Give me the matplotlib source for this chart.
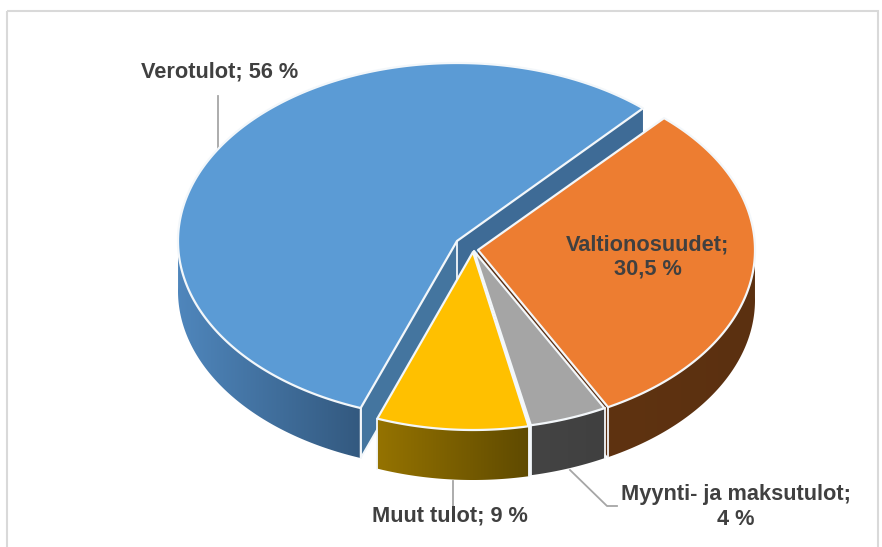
import numpy as np
import matplotlib
matplotlib.use("Agg")
import matplotlib.pyplot as plt
from matplotlib.colors import to_rgb
from matplotlib.patches import Polygon

# Data
categories = ["Verotulot", "Valtionosuudet", "Myynti- ja maksutulot", "Muut tulot"]
shares = [56, 30.5, 4.5, 9]
labels = ["Verotulot; 56 %", "Valtionosuudet;\n30,5 %", "Myynti- ja maksutulot;\n4 %", "Muut tulot; 9 %"]
top_colors = ["#5B9BD5", "#ED7D31", "#A5A5A5", "#FFC000"]
wall_from = ["#4F86BC", "#5F3311", "#444444", "#957300"]
wall_to = ["#33597F", "#5B3010", "#404040", "#5F4A00"]
cut_colors = ["#44759F", "#5A2E12", "#444444", "#7A5E00"]

W, H = 882, 547
fig = plt.figure(figsize=(W / 100, H / 100), dpi=100)
ax = fig.add_axes([0, 0, 1, 1])
ax.axis("off")

B, DEPTH = 178, 50
START = 47.8
BLUE_START = 48.2
semi_a = {"Verotulot": 279, "Valtionosuudet": 277,
          "Myynti- ja maksutulot": 278, "Muut tulot": 272}
apexes = {"Verotulot": (457, 241), "Valtionosuudet": (478, 250),
          "Myynti- ja maksutulot": (474, 251), "Muut tulot": (473, 252)}
EDGE = "#F3F7FA"


def rim(name, t):
    t = np.radians(t)
    ap = apexes[name]
    return ap[0] + semi_a[name] * np.cos(t), ap[1] - B * np.sin(t)


spans = {categories[0]: (BLUE_START, BLUE_START + shares[0] * 3.6)}
cur = START
for name, s in zip(categories[1:], shares[1:]):
    spans[name] = (cur - s * 3.6, cur)
    cur -= s * 3.6


def draw(i, z):
    name = categories[i]
    ap = apexes[name]
    t0, t1 = spans[name]
    ts = np.linspace(t0, t1, 300)
    xs, ys = rim(name, ts)
    if i == 0:
        x, y = rim(name, t0)
        ax.add_patch(Polygon([ap, (x, y), (x, y + DEPTH), (ap[0], ap[1] + DEPTH)],
                             fc="#3E6B96", ec="none", zorder=z))
        x, y = rim(name, t1)
        ax.add_patch(Polygon([ap, (x, y), (x, y + DEPTH), (ap[0], ap[1] + DEPTH)],
                             fc=cut_colors[0], ec="none", zorder=z))
        ax.plot([x, x, ap[0]], [y, y + DEPTH, ap[1] + DEPTH], color=EDGE, lw=1.3, zorder=z + 0.2)
        ax.plot([ap[0], ap[0]], [ap[1], ap[1] + DEPTH], color=EDGE, lw=1.3, zorder=z + 0.2)
    if i == 1:
        x, y = rim(name, t0)
        ax.add_patch(Polygon([ap, (x, y), (x, y + DEPTH), (ap[0], ap[1] + DEPTH)],
                             fc=cut_colors[i], ec="none", zorder=z))
    # outer wall: gradient image clipped to the wall outline
    wt = ts[np.sin(np.radians(ts)) < 0.02]
    wx, wy = rim(name, wt)
    outline = np.vstack([np.column_stack([wx, wy]), np.column_stack([wx[::-1], wy[::-1] + DEPTH])])
    c0, c1 = np.array(to_rgb(wall_from[i])), np.array(to_rgb(wall_to[i]))
    grad = np.linspace(0, 1, 256)[None, :, None] * (c1 - c0)[None, None, :] + c0[None, None, :]
    im = ax.imshow(grad, extent=(wx.min(), wx.max(), wy.max() + DEPTH, wy.min()),
                   aspect="auto", zorder=z, interpolation="bilinear")
    clip = Polygon(outline, closed=True, transform=ax.transData, fc="none", ec="none")
    ax.add_patch(clip)
    im.set_clip_path(clip)
    # top face
    ax.add_patch(Polygon(np.vstack([[ap], np.column_stack([xs, ys])]), closed=True,
                         fc=top_colors[i], ec=EDGE, lw=1.6, zorder=z + 0.5, joinstyle="round"))
    # vertical edges
    for t in (t0, t1):
        x, y = rim(name, t)
        if np.sin(np.radians(t)) < 0:
            ax.plot([x, x], [y, y + DEPTH], color=EDGE, lw=1.3, zorder=z + 0.2)


draw(0, 2)
draw(1, 4)
draw(2, 6)
draw(3, 8)

ax.set_xlim(0, W)
ax.set_ylim(H, 0)

# Chart frame
ax.add_patch(plt.Rectangle((6.5, 10.5), 871, 560, fc="none", ec="#D9D9D9", lw=1.5, zorder=1))

# Leader lines
lc = "#A6A6A6"
ax.plot([218, 218], [96, 150], color=lc, lw=1.3, zorder=1)
ax.plot([453, 453], [481, 508], color=lc, lw=1.3, zorder=1)
ax.plot([570, 607, 617], [470, 506, 506], color=lc, lw=1.3, zorder=1)

# Labels
tc = "#404040"
kw = dict(family="Liberation Sans", fontweight="bold", fontsize=15.7, color=tc, zorder=20,
          linespacing=1.2)
ax.text(220, 72, labels[0], ha="center", va="center", **kw)
ax.text(648, 257, labels[1], ha="center", va="center", **kw)
ax.text(736, 507, labels[2], ha="center", va="center", **kw)
ax.text(450, 516, labels[3], ha="center", va="center", **kw)

fig.savefig("out.png", dpi=100)
